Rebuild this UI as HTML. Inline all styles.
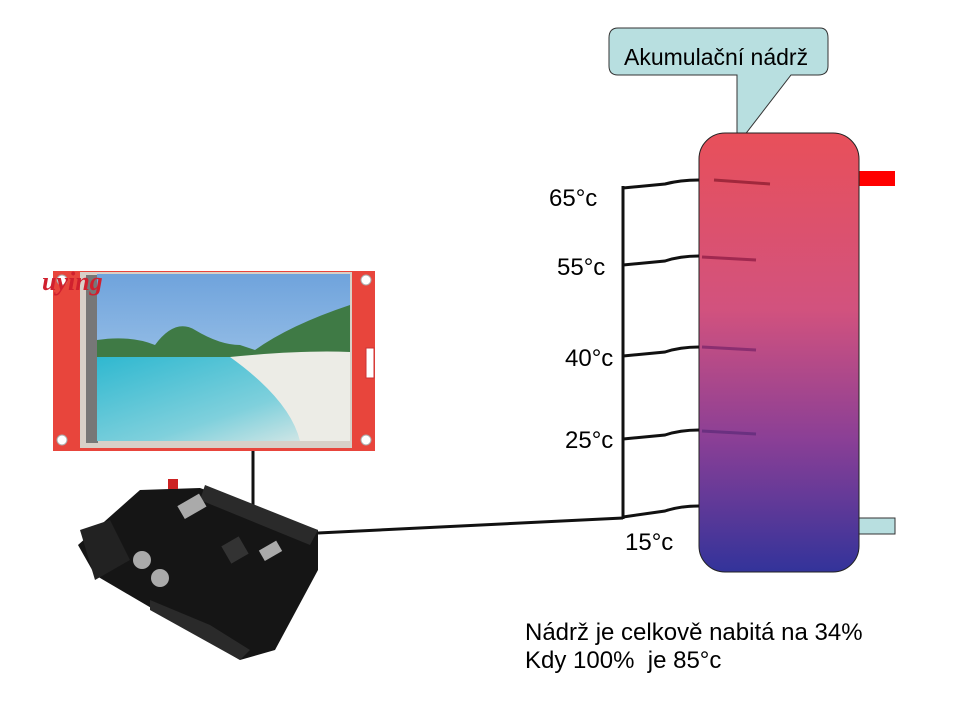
<!DOCTYPE html>
<html><head><meta charset="utf-8"><style>
html,body{margin:0;padding:0;background:#fff;}
svg{display:block;font-family:"Liberation Sans",sans-serif;}
</style></head><body>
<svg width="960" height="720" viewBox="0 0 960 720" xmlns="http://www.w3.org/2000/svg">
<defs>
<linearGradient id="tank" x1="0" y1="0" x2="0" y2="1">
<stop offset="0" stop-color="#e8505a"/>
<stop offset="0.4" stop-color="#d2527e"/>
<stop offset="0.7" stop-color="#8a3f96"/>
<stop offset="1" stop-color="#33339a"/>
</linearGradient>
<linearGradient id="sky" x1="0" y1="0" x2="0" y2="1">
<stop offset="0" stop-color="#6fa3dc"/><stop offset="1" stop-color="#b8d6ef"/>
</linearGradient>
<linearGradient id="sea" x1="0" y1="0" x2="1" y2="1">
<stop offset="0" stop-color="#2fb8d0"/><stop offset="0.6" stop-color="#7fd0dc"/><stop offset="1" stop-color="#e8ece8"/>
</linearGradient>
</defs>

<!-- callout -->
<path d="M618,28 L820,28 Q828,28 828,38 L828,66 Q828,75 818,75 L791,75 L737,145 L737,75 L618,75 Q609,75 609,66 L609,38 Q609,28 618,28 Z" fill="#b8dfe0" stroke="#333" stroke-width="1"/>
<text x="624" y="65" font-size="23" fill="#000">Akumulační nádrž</text>

<!-- stubs -->
<rect x="859" y="171" width="36" height="15" fill="#f00"/>
<rect x="859" y="518" width="36" height="16" fill="#b8dfe0" stroke="#333" stroke-width="1"/>

<!-- tank -->
<rect x="699" y="133" width="160" height="439" rx="26" fill="url(#tank)" stroke="#222" stroke-width="1"/>

<!-- sensors -->
<g stroke-width="3">
<line x1="714" y1="180" x2="770" y2="184" stroke="#a0283c"/>
<line x1="702" y1="257" x2="756" y2="260" stroke="#a02850"/>
<line x1="702" y1="347" x2="756" y2="350" stroke="#8a2e70"/>
<line x1="702" y1="431" x2="756" y2="434" stroke="#6a3080"/>
</g>

<!-- wires -->
<g fill="none" stroke="#111" stroke-width="3">
<line x1="623" y1="186" x2="623" y2="519"/>
<path d="M623,188 L665,184 Q680,180 699,180"/>
<path d="M623,265 L665,261 Q680,256 699,256"/>
<path d="M623,356 L665,352 Q680,347 699,347"/>
<path d="M623,439 L665,435 Q680,430 699,430"/>
<path d="M623,517 L665,511 Q680,506 699,506"/>
<path d="M318,533 L623,518"/>
<line x1="253" y1="450" x2="253" y2="505" stroke-width="3"/>
</g>

<g font-size="24" fill="#000">
<text x="549" y="206">65°c</text>
<text x="557" y="275">55°c</text>
<text x="565" y="366">40°c</text>
<text x="565" y="448">25°c</text>
<text x="625" y="550">15°c</text>
<text x="525" y="640">Nádrž je celkově nabitá na 34%</text>
<text x="525" y="668">Kdy 100%&#160; je 85°c</text>
</g>

<!-- display module -->
<rect x="53" y="271" width="322" height="180" fill="#e8453c"/>
<rect x="80" y="272" width="272" height="176" fill="#d8d0c8"/>
<rect x="86" y="275" width="12" height="168" fill="#777"/>
<rect x="97" y="274" width="253" height="167" fill="url(#sky)"/>
<path d="M97,340 Q130,335 155,345 Q175,318 195,330 Q220,345 240,345 L255,350 Q290,325 350,305 L350,360 L97,360 Z" fill="#3f7a45"/>
<path d="M97,357 L350,357 L350,441 L97,441 Z" fill="url(#sea)"/>
<path d="M230,357 Q300,350 350,352 L350,441 L300,441 Q290,400 230,357 Z" fill="#ecece6"/>
<circle cx="62" cy="280" r="5" fill="#fff" stroke="#aaa"/>
<circle cx="366" cy="280" r="5" fill="#fff" stroke="#aaa"/>
<circle cx="62" cy="440" r="5" fill="#fff" stroke="#aaa"/>
<circle cx="366" cy="440" r="5" fill="#fff" stroke="#aaa"/>
<rect x="366" y="348" width="8" height="30" fill="#fff" stroke="#c33" stroke-width="1"/>
<text x="42" y="290" font-family="Liberation Serif,serif" font-style="italic" font-weight="bold" font-size="26" fill="#d0202e">uying</text>

<!-- arduino board -->
<polygon points="78,545 140,490 200,488 318,530 318,570 275,650 240,660 95,575" fill="#151515"/>
<polygon points="205,485 318,530 310,545 200,500" fill="#2a2a2a"/>
<polygon points="80,530 110,520 130,560 95,580" fill="#222"/>
<rect x="168" y="479" width="10" height="10" fill="#c22"/>
<circle cx="142" cy="560" r="9" fill="#aaa"/>
<circle cx="160" cy="578" r="9" fill="#aaa"/>
<rect x="180" y="500" width="25" height="15" fill="#aaa" transform="rotate(-30 190 508)"/>
<rect x="260" y="545" width="20" height="12" fill="#aaa" transform="rotate(-30 270 550)"/>
<rect x="225" y="540" width="20" height="20" fill="#333" transform="rotate(-30 235 550)"/>
<polygon points="150,600 210,625 250,650 240,660 150,610" fill="#2a2a2a"/>
</svg>
</body></html>
